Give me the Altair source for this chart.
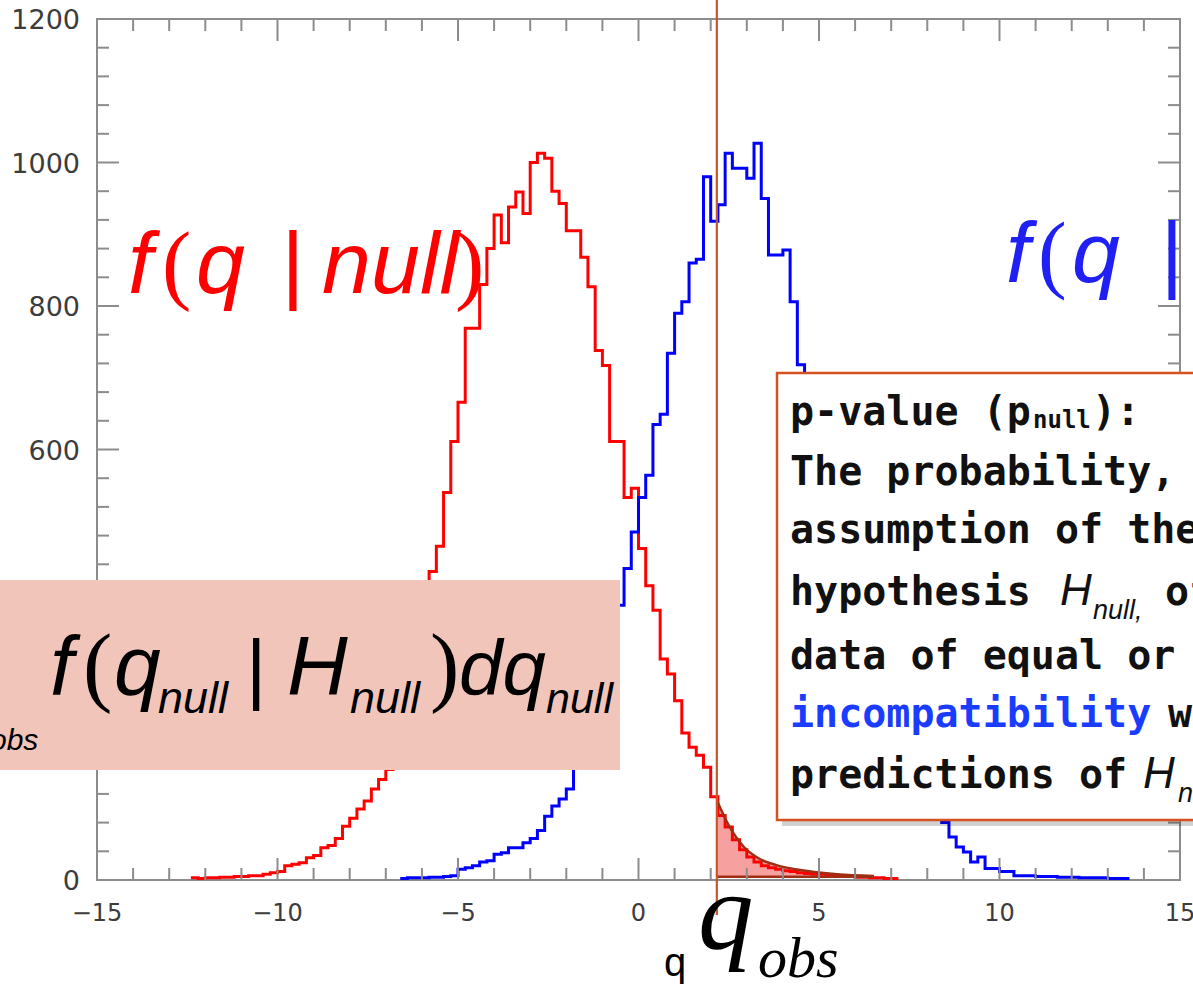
import altair as alt
import pandas as pd

# ---------------- data ----------------
BIN_WIDTH = 0.2
red_first_edge = -12.4
red_counts = [3, 2, 3, 3, 4, 4, 5, 5, 6, 6, 8,
              10, 12, 20, 22, 24, 31, 34, 45, 48, 58,
              75, 86, 99, 110, 127, 140, 154, 180, 215, 260,
              310, 370, 430, 465, 540, 611, 666, 769, 769, 830,
              880, 927, 888, 938, 959, 929, 1000, 1013, 1006, 960,
              943, 905, 905, 868, 827, 738, 717, 611, 611, 533,
              546, 462, 410, 376, 308, 287, 250, 205, 185, 174,
              157, 116, 90, 74, 56, 42, 32, 25, 20, 17,
              15, 13, 12, 10, 9, 8, 8, 7, 6, 5,
              5, 4, 4, 3, 3, 2, 2]
blue_first_edge = -6.6
blue_counts = [2, 3, 3, 3, 4, 4, 5, 6, 15, 17,
               20, 25, 27, 36, 38, 45, 45, 52, 58, 69,
               89, 103, 113, 127, 157, 185, 215, 250, 290, 330,
               383, 434, 485, 533, 564, 635, 649, 734, 790, 806,
               860, 865, 980, 918, 941, 1013, 992, 992, 978, 1027,
               950, 871, 871, 878, 806, 718, 690, 640, 590, 540,
               490, 440, 390, 345, 305, 265, 230, 200, 175, 155,
               138, 122, 108, 97, 88, 80, 60, 46, 39, 25,
               32, 16, 16, 12, 12, 6, 6, 6, 5, 5,
               5, 4, 4, 4, 3, 3, 3, 3, 2, 2, 2]
q_obs = 2.17
tail_q = [2.17, 2.5, 2.92, 3.3, 3.8, 4.69, 5.5, 6.52]
tail_v = [111, 76, 46, 31, 21, 12.5, 8, 5.6]
tail_base = 4.5

x_major = [-15, -10, -5, 0, 5, 10, 15]
x_labels = ["\u221215\u2007", "\u221210\u2007", "\u22125\u2007", "0", "5", "10", "15"]
x_minor = [i for i in range(-15, 16) if i % 5 != 0]
y_major = [0, 200, 400, 600, 800, 1000, 1200]
y_labels = ["0", "200", "400", "600", "800", "1000", "1200"]
y_minor = [v for v in range(0, 1201, 40) if v % 200 != 0]

# ---------------- layout ----------------
W, H = 1083, 861
L, T = 97, 19
AX = "#8c8c8c"
LAB = "#3c3c3c"

xs = alt.Scale(domain=[-15, 15], nice=False, zero=False)
ys = alt.Scale(domain=[0, 1200], nice=False, zero=False)
one = pd.DataFrame({"a": [0]})


def hist_df(first, counts):
    edges = [round(first + i * BIN_WIDTH, 4) for i in range(len(counts) + 1)]
    return pd.DataFrame({"q": edges, "n": counts + [counts[-1]]})


def txt(s, x, y, size, color="black", font="Liberation Sans", style="normal",
        weight="normal", align="left"):
    return alt.Chart(one).mark_text(
        text=s, fontSize=size, color=color, font=font, fontStyle=style,
        fontWeight=weight, align=align, baseline="alphabetic"
    ).encode(x=alt.value(x - L), y=alt.value(y - T))


def rect(x0, x1, y0, y1, fill, stroke=None, sw=0, opacity=1.0):
    kw = dict(color=fill, opacity=opacity)
    if stroke:
        kw.update(stroke=stroke, strokeWidth=sw)
    return alt.Chart(one).mark_rect(**kw).encode(
        x=alt.value(x0 - L), x2=alt.value(x1 - L),
        y=alt.value(y0 - T), y2=alt.value(y1 - T))


def X(f):
    return alt.X(f, scale=xs, axis=None)


def Y(f):
    return alt.Y(f, scale=ys, axis=None)


layers = []

# tail fill
tail_df = pd.DataFrame({"q": tail_q, "v": tail_v, "b": [tail_base] * len(tail_q)})
layers.append(alt.Chart(tail_df).mark_area(interpolate="monotone", color="#f6a0a0").encode(
    x=X("q:Q"), y=Y("v:Q"), y2="b:Q"))

# histograms
layers.append(alt.Chart(hist_df(red_first_edge, red_counts)).mark_line(
    interpolate="step-after", color="#ff0000", strokeWidth=3).encode(x=X("q:Q"), y=Y("n:Q")))
layers.append(alt.Chart(hist_df(blue_first_edge, blue_counts)).mark_line(
    interpolate="step-after", color="#0000ff", strokeWidth=3).encode(x=X("q:Q"), y=Y("n:Q")))

# tail outline
layers.append(alt.Chart(tail_df).mark_line(interpolate="monotone", color="#9e2f14",
                                           strokeWidth=2.5).encode(x=X("q:Q"), y=Y("v:Q")))
tail_base_df = pd.DataFrame({"q0": [tail_q[0]], "q1": [tail_q[-1]], "b": [tail_base]})
layers.append(alt.Chart(tail_base_df).mark_rule(color="#9e2f14", strokeWidth=2.5).encode(
    x=X("q0:Q"), x2="q1:Q", y=Y("b:Q")))

# custom ticks (inward), on all four sides
for vals, ln in ((x_major, 22), (x_minor, 12)):
    d = pd.DataFrame({"t": vals})
    layers.append(alt.Chart(d).mark_rule(color=AX, strokeWidth=2).encode(
        x=X("t:Q"), y=alt.value(H), y2=alt.value(H - ln)))
    layers.append(alt.Chart(d).mark_rule(color=AX, strokeWidth=2).encode(
        x=X("t:Q"), y=alt.value(0), y2=alt.value(ln)))
for vals, ln in ((y_major, 22), (y_minor, 12)):
    d = pd.DataFrame({"t": vals})
    layers.append(alt.Chart(d).mark_rule(color=AX, strokeWidth=2).encode(
        y=Y("t:Q"), x=alt.value(0), x2=alt.value(ln)))
    layers.append(alt.Chart(d).mark_rule(color=AX, strokeWidth=2).encode(
        y=Y("t:Q"), x=alt.value(W), x2=alt.value(W - ln)))

# tick labels
xl = pd.DataFrame({"t": x_major, "lab": x_labels})
layers.append(alt.Chart(xl).mark_text(font="DejaVu Sans", fontSize=24, color=LAB,
                                      align="center", baseline="alphabetic").encode(
    x=X("t:Q"), y=alt.value(921 - T), text="lab:N"))
yl = pd.DataFrame({"t": y_major, "lab": y_labels})
layers.append(alt.Chart(yl).mark_text(font="DejaVu Sans", fontSize=27, color=LAB,
                                      align="right", baseline="alphabetic", dy=10).encode(
    y=Y("t:Q"), x=alt.value(80 - L), text="lab:N"))

# q_obs vertical line
qo_df = pd.DataFrame({"q": [q_obs]})
layers.append(alt.Chart(qo_df).mark_rule(color="#c9552b", strokeWidth=2.2).encode(
    x=X("q:Q"), y=alt.value(0 - T), y2=alt.value(915 - T)))

# red label f(q | null)
RED = "#ff0000"
layers += [
    txt("f", 128, 293, 88, RED, style="italic"),
    txt("(", 162, 293, 88, RED, font="Liberation Serif"),
    txt("q", 196, 293, 88, RED, style="italic"),
    txt("|", 293, 293, 88, RED, align="center"),
    txt("null", 322, 293, 88, RED, style="italic"),
    txt(")", 455, 293, 88, RED, font="Liberation Serif"),
]
# blue label f(q | ...
BLUE = "#2020f5"
layers += [
    txt("f", 1006, 282, 86, BLUE, style="italic"),
    txt("(", 1038, 282, 86, BLUE, font="Liberation Serif"),
    txt("q", 1072, 282, 86, BLUE, style="italic"),
    txt("|", 1172, 282, 86, BLUE, align="center"),
]

# pink integral box
layers.append(rect(0, 620, 580, 770, "#f2c5ba"))
layers += [
    txt("f", 50, 695, 84, style="italic"),
    txt("(", 83, 695, 88, font="Liberation Serif"),
    txt("q", 114, 695, 84, style="italic"),
    txt("null", 158, 713, 45, style="italic"),
    txt("|", 256, 695, 78, align="center"),
    txt("H", 287, 695, 84, style="italic"),
    txt("null", 350, 713, 45, style="italic"),
    txt(")", 430, 695, 88, font="Liberation Serif"),
    txt("dq", 459, 695, 78, style="italic"),
    txt("null", 546, 713, 43, style="italic"),
    txt("obs", -10, 750, 30, style="italic"),
]

# p-value box
layers.append(rect(782, 1200, 378, 826, "#000000", opacity=0.18))
layers.append(rect(777, 1200, 373, 820, "#ffffff", stroke="#d4521f", sw=2.5))
MONO = "DejaVu Sans Mono"
INK = "#111111"
layers += [
    txt("p-value (p", 790, 425, 40, INK, font=MONO, weight="bold"),
    txt("null", 1033, 428, 24, INK, font=MONO, weight="bold"),
    txt("):", 1092, 425, 40, INK, font=MONO, weight="bold"),
    txt("The probability, under the", 790, 485, 40, INK, font=MONO, weight="bold"),
    txt("assumption of the null", 790, 543, 40, INK, font=MONO, weight="bold"),
    txt("hypothesis", 790, 605, 40, INK, font=MONO, weight="bold"),
    txt("H", 1060, 605, 44, INK, style="italic"),
    txt("null,", 1093, 619, 27, INK, style="italic"),
    txt("of obtaining", 1165, 605, 40, INK, font=MONO, weight="bold"),
    txt("data of equal or greater", 790, 669, 40, INK, font=MONO, weight="bold"),
    txt("incompatibility", 790, 727, 40, "#1a3cff", font=MONO, weight="bold"),
    txt("with the", 1168, 727, 40, INK, font=MONO, weight="bold"),
    txt("predictions of", 790, 788, 40, INK, font=MONO, weight="bold"),
    txt("H", 1143, 788, 44, INK, style="italic"),
    txt("null.", 1178, 802, 27, INK, style="italic"),
]

# bottom q_obs label
layers += [
    txt("q", 664, 976, 40),
    txt("q", 698, 949, 111, font="Liberation Serif", style="italic"),
    txt("obs", 758, 977, 58, font="Liberation Serif", style="italic"),
]

chart = alt.layer(*layers).properties(
    width=W, height=H,
    padding={"left": L, "top": T, "right": 1193 - L - W, "bottom": 990 - T - H},
    autosize=alt.AutoSizeParams(type="none"),
    background="white",
).configure_view(stroke=AX, strokeWidth=2)

chart.save("out.html", embed_options={"renderer": "svg", "actions": False})
